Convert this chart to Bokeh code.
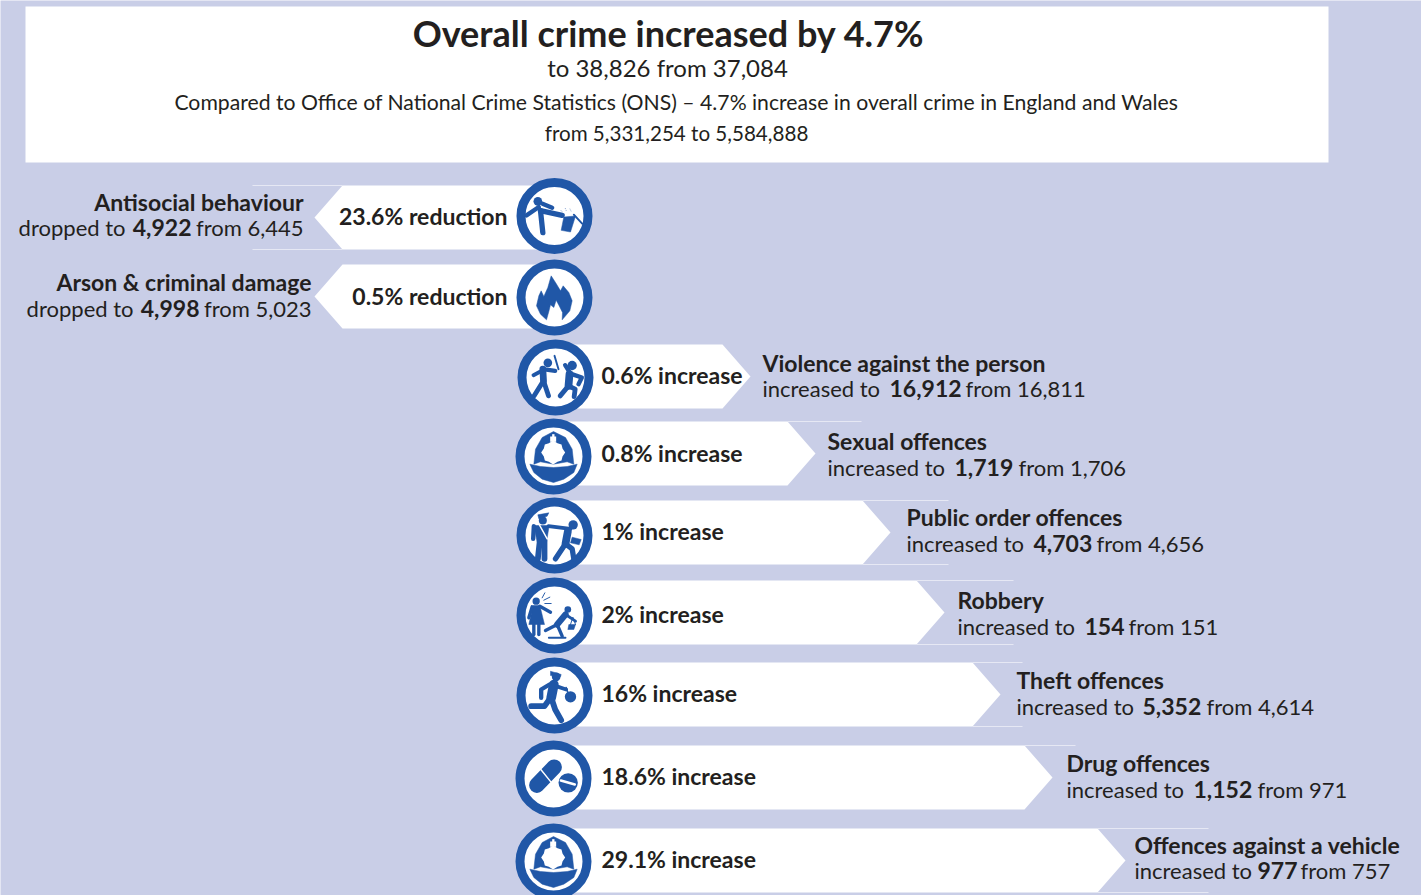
from bokeh.embed import file_html
from bokeh.models import ColumnDataSource, Range1d
from bokeh.plotting import figure
from bokeh.resources import INLINE
from bokeh.core.properties import value

# ---- Figures -------------------------------------------------------------
categories = ["Antisocial behaviour", "Arson & criminal damage", "Violence against the person",
              "Sexual offences", "Public order offences", "Robbery", "Theft offences",
              "Drug offences", "Offences against a vehicle"]
pct_change = ["23.6%", "0.5%", "0.6%", "0.8%", "1%", "2%", "16%", "18.6%", "29.1%"]
directions = ["reduction", "reduction", "increase", "increase", "increase", "increase",
              "increase", "increase", "increase"]
current = [4922, 4998, 16912, 1719, 4703, 154, 5352, 1152, 977]
previous = [6445, 5023, 16811, 1706, 4656, 151, 4614, 971, 757]
icons = ["kick", "fire", "fight", "helmet", "arrest", "robbery", "thief", "pills", "helmet"]

TITLE = "Overall crime increased by 4.7%"
SUB1 = "to 38,826 from 37,084"
SUB2 = "Compared to Office of National Crime Statistics (ONS) \u2013 4.7% increase in overall crime in England and Wales"
SUB3 = "from 5,331,254 to 5,584,888"

# ---- Layout (page pixels, y downward) -------------------------------------
BG, BLUE, INK, RULE = "#C9CEE7", "#2057A7", "#231F20", "#E6E8F4"
FONT = "Lato"
W, H = 1421, 895

bar_top = [185, 264, 344, 421, 500, 580, 662, 745, 828]
bar_h = 64
tip_x = [314, 314, 750, 815, 890, 944, 1000, 1052, 1125]
notch = 28
icon_x = [554, 554, 555, 553, 554, 554, 554, 553, 553]
icon_y = [215.5, 297, 377, 456, 535, 615, 695, 778, 861]
label_y = [215, 295, 374, 452, 530, 613, 692, 775, 858]
name_y = [201, 281, 362, 440, 516, 599, 679, 762, 844]
detail_y = [227, 308, 388, 467, 543, 626, 706, 789, 870]
name_x = [303, 311, 762, 827, 906, 957, 1016, 1066, 1134]
verb_x = [127, 135, 762, 827, 906, 957, 1016, 1066, 1134]
bold_x = [191, 199, 889, 954, 1033, 1084, 1142, 1193, 1257]
from_x = [303, 311, 965, 1018, 1096, 1128, 1206, 1257, 1300]
# Hairlines running on past each arrow's shoulder: (row, end x, top?, bottom?)
rules = [(0, 252, True, True), (3, 861, True, False), (4, 948, True, True),
         (5, 1013, True, True), (6, 1022, True, True), (7, 1075, True, False),
         (8, 1208, True, True)]

p = figure(width=W, height=H, x_range=Range1d(0, W), y_range=Range1d(H, 0),
           output_backend="svg", toolbar_location=None, min_border=0,
           background_fill_color=BG, border_fill_color=BG, outline_line_color=None)
p.axis.visible = False
p.grid.visible = False

# Header panel
p.quad(left=[25], right=[1328], top=[6], bottom=[162], fill_color="white", line_color=None)


def centred(txt, x, y, size, style="normal"):
    p.text(x=[x], y=[y], text=[txt], text_font=value(FONT), text_font_size=size,
           text_font_style=style, text_color=INK, text_align="center", text_baseline="middle")


centred(TITLE, 668, 32, "36px", "bold")
centred(SUB1, 667, 67, "24px")
centred(SUB2, 676, 101, "21.2px")
centred(SUB3, 676, 132, "20.6px")

# Arrow bars
xs, ys = [], []
for i, (top, tip) in enumerate(zip(bar_top, tip_x)):
    bot, mid = top + bar_h, top + bar_h / 2
    c = icon_x[i]
    if directions[i] == "reduction":
        xs.append([c, tip + notch, tip, tip + notch, c])
    else:
        xs.append([c, tip - notch, tip, tip - notch, c])
    ys.append([top, top, mid, bot, bot])
p.patches(xs, ys, fill_color="white", line_color=None)

rx, ry = [], []
for row, end, on_top, on_bot in rules:
    start = tip_x[row] + notch if directions[row] == "reduction" else tip_x[row] - notch
    if on_top:
        rx.append([start, end]); ry.append([bar_top[row], bar_top[row]])
    if on_bot:
        rx.append([start, end]); ry.append([bar_top[row] + bar_h, bar_top[row] + bar_h])
p.multi_line(rx, ry, line_color=RULE, line_width=1)

# ---- Pictograms, drawn in thirds of a pixel around each badge's centre ------
STROKE = 1.45
ICONS = {
    "kick": {
        "dots": [(-50, -44, 13)],
        "lines": [([-42, -35], [-16, 50], 11), ([-42, 23], [-16, -2], 11),
                  ([-47, -84], [-27, -2], 9), ([-36, -7], [-37, -25], 9),
                  ([58, 83], [-4, 23], 4)],
        "polys": [[(28, 3), (63, 0), (48, 48), (20, 43)]],
        "sparks": [([18, 24], [-18, -12]), ([32, 36], [-24, -14]), ([46, 50], [-22, -14])],
    },
    "fire": {
        "polys": [[(-10, -65), (3, -45), (18, -20), (26, -35), (43, -15), (53, 10), (46, 40), (23, 67),
                   (24, 45), (14, 25), (5, 8), (-2, 30), (-12, 22), (-17, 42), (-24, 67), (-42, 50),
                   (-54, 25), (-47, -5), (-40, -20), (-32, -3), (-20, -30)]],
    },
    "fight": {
        "dots": [(-23, -44, 13), (50, -36, 14)],
        "lines": [([-38, -36], [-25, 10], 14), ([-38, -1], [-25, -20], 9), ([-41, -66], [-20, -7], 8),
                  ([-36, -64], [10, 55], 10), ([-36, -21], [10, 55], 10), ([-3, 9], [-65, -25], 4),
                  ([42, 39], [-10, 25], 16), ([44, 29], [-13, -37], 9), ([49, 79, 69], [-10, 0, 20], 9),
                  ([39, 14], [25, 55], 10), ([39, 59, 56], [25, 35, 57], 10)],
    },
    "helmet": {
        "polys": [[(-59, 23), (-54, -22), (-34, -57), (0, -75), (36, -57), (56, -22), (61, 23), (41, 16),
                   (0, 23), (-39, 16)],
                  [(-71, 23), (-39, 30), (0, 33), (41, 30), (71, 23), (61, 48), (31, 68), (0, 78),
                   (-34, 68), (-59, 48)]],
        "white_polys": [[(-1, -48), (12, -40), (24, -36), (27, -24), (35, -12), (27, 0), (24, 12), (12, 16),
                         (-1, 24), (-14, 16), (-26, 12), (-29, 0), (-37, -12), (-29, -24), (-26, -36),
                         (-14, -40)],
                        [(-10, -60), (8, -60), (8, -44), (-10, -44)],
                        [(-4, -67), (3, -67), (3, -58), (-4, -58)]],
    },
    "arrest": {
        "dots": [(-35, -45, 12), (56, -32, 14)],
        "polys": [[(-50, -62), (-17, -68), (-22, -58), (-47, -50)],
                  [(-62, -30), (-16, -30), (-24, 20), (-52, 20)],
                  [(53, 5), (80, 12), (74, 28), (48, 22)]],
        "lines": [([-44, -50], [15, 70], 12), ([-30, -30], [15, 70], 12), ([-62, -64], [-28, 10], 9),
                  ([-18, 48], [-28, -20], 8), ([40, 33], [-12, 25], 16), ([33, 3], [25, 70], 11),
                  ([33, 53, 58], [25, 40, 70], 11)],
        "white_lines": [([-47, -22], [-35, 10], 3)],
    },
    "robbery": {
        "dots": [(-55, -43, 11), (40, -18, 10)],
        "polys": [[(-64, -30), (-44, -30), (-30, 27), (-77, 27)],
                  [(43, 27), (63, 27), (58, 42), (40, 42)]],
        "lines": [([-44, -12], [-28, -10], 7), ([-67, -77], [-26, 7], 7), ([-62, -62], [27, 57], 7),
                  ([-47, -47], [27, 57], 7), ([33, 8], [-3, 27], 13), ([33, 63], [-3, 17], 6),
                  ([8, -27], [27, 45], 7), ([8, 23], [27, 62], 7), ([-17, 33], [67, 67], 4),
                  ([48, 55, 63], [27, 5, 27], 2)],
        "thin": [([-37, -29], [-53, -68], 2), ([-32, -14], [-46, -55], 2), ([-29, -10], [-36, -36], 2)],
    },
    "thief": {
        "dots": [(5, -56, 13), (48, 4, 17)],
        "polys": [[(-12, -73), (20, -63), (18, -56), (-12, -60)]],
        "lines": [([-2, -10], [-33, 7], 20), ([-15, -40, -40], [-33, -18, 7], 9), ([5, 35], [-28, -18], 8),
                  ([-12, -30, -70], [7, 32, 32], 12), ([-8, 2, 20], [12, 42, 74], 12), ([35, 40], [-24, -10], 3)],
    },
    "pills": {
        "lines": [([-50, 2], [20, -34], 32)],
        "white_lines": [([-38, -8], [-27, 10], 3)],
        "dots": [(44, 13, 29)],
        "white_lines2": [([22, 64], [6, 18], 5)],
    },
}

for name, cx, cy in zip(icons, icon_x, icon_y):
    shape = ICONS[name]
    p.ellipse(x=[cx], y=[cy], width=[67], height=[67], fill_color="white", line_color=BLUE, line_width=9)

    def to_page(points):
        return [[cx + a / 3 for a, _ in pts] for pts in points], [[cy + b / 3 for _, b in pts] for pts in points]

    def strokes(key, colour, weight=1.0):
        for lx, ly, lw in shape.get(key, []):
            p.line([cx + a / 3 for a in lx], [cy + b / 3 for b in ly], line_color=colour,
                   line_width=weight * lw / 3, line_cap="round", line_join="round")

    if "polys" in shape:
        a, b = to_page(shape["polys"])
        p.patches(a, b, fill_color=BLUE, line_color=BLUE, line_width=0.5)
    strokes("lines", BLUE, STROKE)
    strokes("thin", BLUE, STROKE)
    strokes("white_lines", "white", STROKE)
    for dx, dy, r in shape.get("dots", []):
        p.ellipse(x=[cx + dx / 3], y=[cy + dy / 3], width=[2 * r / 3], height=[2 * r / 3],
                  fill_color=BLUE, line_color=None)
    strokes("white_lines2", "white", STROKE)
    if "white_polys" in shape:
        a, b = to_page(shape["white_polys"])
        p.patches(a, b, fill_color="white", line_color=None)
    for lx, ly in shape.get("sparks", []):
        p.line([cx + a / 3 for a in lx], [cy + b / 3 for b in ly], line_color="#8FA9D3", line_width=1,
               line_dash="1 1")

# ---- Text ------------------------------------------------------------------
is_down = [d == "reduction" for d in directions]
align = ["right" if d else "left" for d in is_down]
BOLD_SIZE, REG_SIZE = "23px", "22px"
verb_x[:2] = [125, 133]

labels = ColumnDataSource(dict(
    x=[507 if d else 601 for d in is_down], y=label_y,
    t=[f"{a} {b}" for a, b in zip(pct_change, directions)], a=align))
p.text("x", "y", text="t", source=labels, text_align="a", text_baseline="middle", text_font=value(FONT),
       text_font_size=BOLD_SIZE, text_font_style="bold", text_color=INK)

names = ColumnDataSource(dict(x=name_x, y=name_y, t=categories, a=align))
p.text("x", "y", text="t", source=names, text_align="a", text_baseline="middle", text_font=value(FONT),
       text_font_size=BOLD_SIZE, text_font_style="bold", text_color=INK)

verbs = ColumnDataSource(dict(x=verb_x, y=detail_y, a=align,
                              t=["dropped to" if d else "increased to" for d in is_down]))
p.text("x", "y", text="t", source=verbs, text_align="a", text_baseline="middle", text_font=value(FONT),
       text_font_size=REG_SIZE, text_color=INK)

nums = ColumnDataSource(dict(x=bold_x, y=detail_y, a=align, t=[f"{v:,}" for v in current]))
p.text("x", "y", text="t", source=nums, text_align="a", text_baseline="middle", text_font=value(FONT),
       text_font_size=BOLD_SIZE, text_font_style="bold", text_color=INK)

froms = ColumnDataSource(dict(x=from_x, y=detail_y, a=align, t=[f"from {v:,}" for v in previous]))
p.text("x", "y", text="t", source=froms, text_align="a", text_baseline="middle", text_font=value(FONT),
       text_font_size=REG_SIZE, text_color=INK)

open("out.html", "w").write(file_html(p, INLINE))
